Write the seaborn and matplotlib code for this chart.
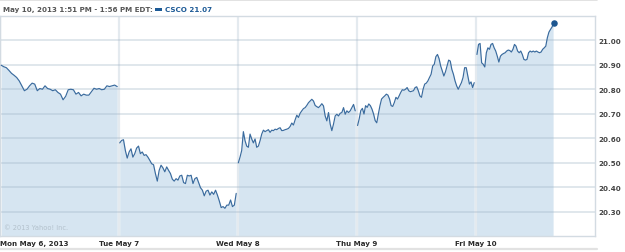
import numpy as np
import pandas as pd
import matplotlib
matplotlib.use("Agg")
import matplotlib.pyplot as plt
from matplotlib.patches import Rectangle
from matplotlib.lines import Line2D
import seaborn as sns

# ---- data ----
mon = [20.899, 20.893, 20.889, 20.878, 20.866, 20.858, 20.849, 20.835, 20.815, 20.795,
       20.801, 20.815, 20.826, 20.822, 20.795, 20.804, 20.801, 20.815, 20.804, 20.801,
       20.795, 20.799, 20.788, 20.781, 20.758, 20.772, 20.799, 20.801, 20.799, 20.781,
       20.788, 20.774, 20.781, 20.777, 20.777, 20.791, 20.805, 20.801, 20.804, 20.799,
       20.801, 20.815, 20.812, 20.815, 20.818, 20.812]
tue = [20.582, 20.592, 20.595, 20.551, 20.520, 20.545, 20.558, 20.524, 20.538, 20.561,
       20.569, 20.538, 20.545, 20.531, 20.534, 20.524, 20.511, 20.497, 20.493, 20.457,
       20.426, 20.470, 20.491, 20.480, 20.464, 20.484, 20.470, 20.457, 20.434, 20.426,
       20.436, 20.430, 20.447, 20.450, 20.420, 20.416, 20.450, 20.447, 20.450, 20.416,
       20.436, 20.441, 20.420, 20.399, 20.389, 20.366, 20.385, 20.389, 20.369, 20.382,
       20.372, 20.389, 20.369, 20.345, 20.318, 20.322, 20.315, 20.328, 20.328, 20.349,
       20.322, 20.328, 20.376]
wed = [20.501, 20.524, 20.551, 20.628, 20.591, 20.569, 20.564, 20.618, 20.598, 20.582,
       20.598, 20.564, 20.569, 20.591, 20.618, 20.634, 20.628, 20.632, 20.636, 20.625,
       20.634, 20.632, 20.638, 20.636, 20.641, 20.644, 20.632, 20.633, 20.636, 20.638,
       20.641, 20.649, 20.663, 20.655, 20.676, 20.695, 20.686, 20.703, 20.713, 20.722,
       20.726, 20.735, 20.746, 20.753, 20.760, 20.753, 20.735, 20.730, 20.726, 20.733,
       20.742, 20.733, 20.692, 20.672, 20.706, 20.659, 20.632, 20.659, 20.692, 20.699,
       20.692, 20.703, 20.706, 20.726, 20.699, 20.713, 20.706, 20.713, 20.726, 20.739,
       20.713]
thu = [20.653, 20.680, 20.714, 20.723, 20.700, 20.734, 20.727, 20.741, 20.734, 20.720,
       20.700, 20.673, 20.664, 20.700, 20.734, 20.761, 20.768, 20.774, 20.781, 20.777,
       20.761, 20.734, 20.731, 20.747, 20.768, 20.761, 20.774, 20.788, 20.799, 20.797,
       20.801, 20.808, 20.795, 20.791, 20.793, 20.795, 20.808, 20.811, 20.795, 20.774,
       20.768, 20.801, 20.822, 20.826, 20.835, 20.849, 20.862, 20.896, 20.903, 20.934,
       20.943, 20.926, 20.896, 20.876, 20.855, 20.872, 20.896, 20.920, 20.916, 20.882,
       20.862, 20.835, 20.815, 20.801, 20.815, 20.828, 20.849, 20.889, 20.889, 20.855,
       20.822, 20.831, 20.808, 20.828]
fri = [20.943, 20.984, 20.988, 20.909, 20.903, 20.892, 20.950, 20.970, 20.964, 20.984,
       20.988, 20.970, 20.957, 20.936, 20.912, 20.936, 20.943, 20.947, 20.950, 20.957,
       20.961, 20.959, 20.953, 20.964, 20.984, 20.977, 20.957, 20.950, 20.957, 20.943,
       20.923, 20.920, 20.923, 20.950, 20.957, 20.953, 20.957, 20.953, 20.957, 20.953,
       20.950, 20.953, 20.964, 20.970, 20.977, 21.011, 21.034, 21.045, 21.055, 21.070]

days = [mon, tue, wed, thu, fri]
day_labels = ["Mon May 6, 2013", "Tue May 7", "Wed May 8", "Thu May 9", "Fri May 10"]
session_start = [0.01, 0.006, 0.003, 0.005, 0.008]   # fraction of trading session
session_end = [0.985, 0.985, 0.985, 0.985, 0.652]
y_ticks = [20.30, 20.40, 20.50, 20.60, 20.70, 20.80, 20.90, 21.00]
header = "May 10, 2013 1:51 PM - 1:56 PM EDT:"
ticker = "CSCO 21.07"

# ---- build table ----
rows = []
for d, vals in enumerate(days):
    ts = d + np.linspace(session_start[d], session_end[d], len(vals))
    for t, v in zip(ts, vals):
        rows.append({"t": t, "price": v, "day": d})
df = pd.DataFrame(rows)

# ---- style ----
sns.set_style("white")
plt.rcParams["font.family"] = ["DejaVu Sans"]

LINE = "#3a6b9e"
FILL = "#d6e5f1"
DOT = "#1d5690"

fig = plt.figure(figsize=(6.25, 2.53), dpi=100)
ax = fig.add_axes([0.0, 1 - 237 / 253, 595 / 625, 220 / 253])

for d in range(len(days)):
    sub = df[df["day"] == d]
    ax.fill_between(sub["t"], sub["price"], 20.0, color=FILL, linewidth=0, zorder=1)

sns.lineplot(data=df, x="t", y="price", units="day", estimator=None,
             color=LINE, linewidth=0.85, ax=ax, zorder=3)
last = df.iloc[-1]
ax.scatter([last["t"]], [last["price"]], s=22, color=DOT, zorder=4, linewidths=0)

ax.set_xlim(0, 5)
ax.set_ylim(20.202, 21.10)
ax.set_xticks(range(5))
ax.set_xticklabels(day_labels)
ax.set_yticks(y_ticks)
ax.set_yticklabels([f"{v:.2f}" for v in y_ticks])
ax.yaxis.tick_right()
ax.tick_params(axis="both", length=0, labelsize=5.1, labelcolor="#444444")
ax.tick_params(axis="x", pad=3.2, labelcolor="#2a2a2a")
ax.tick_params(axis="y", pad=2.5)
for lab in ax.get_xticklabels() + ax.get_yticklabels():
    lab.set_fontweight("bold")
ax.get_xticklabels()[0].set_horizontalalignment("left")
ax.set_xlabel("")
ax.set_ylabel("")

ax.set_axisbelow("line")
ax.grid(axis="y", color="#9fb4c6", alpha=0.38, linewidth=1.2)
ax.grid(axis="x", color="#e4eaef", linewidth=1.6)
for s in ax.spines.values():
    s.set_color("#d3dbe2")
    s.set_linewidth(1.0)

ax.text(0.006, 0.025, "© 2013 Yahoo! Inc.", transform=ax.transAxes,
        fontsize=4.8, color="#b3c1cc", ha="left", va="bottom", zorder=5)

# header
fig.text(3 / 625, 1 - 10 / 253, header, fontsize=5.1, fontweight="bold",
         color="#555555", ha="left", va="center")
fig.add_artist(Rectangle((155 / 625, 1 - 11.5 / 253), 7 / 625, 3 / 253,
                         transform=fig.transFigure, color="#1d5a96", linewidth=0))
fig.text(165 / 625, 1 - 10 / 253, ticker, fontsize=5.1, fontweight="bold",
         color="#1d5a96", ha="left", va="center")

fig.add_artist(Line2D([0, 597 / 625], [1 - 1 / 253] * 2, transform=fig.transFigure,
                      color="#dddddd", linewidth=1.2))
fig.add_artist(Line2D([0, 597 / 625], [1 - 250 / 253] * 2, transform=fig.transFigure,
                      color="#e2e2e2", linewidth=1.6))

fig.savefig("out.png", dpi=100)
